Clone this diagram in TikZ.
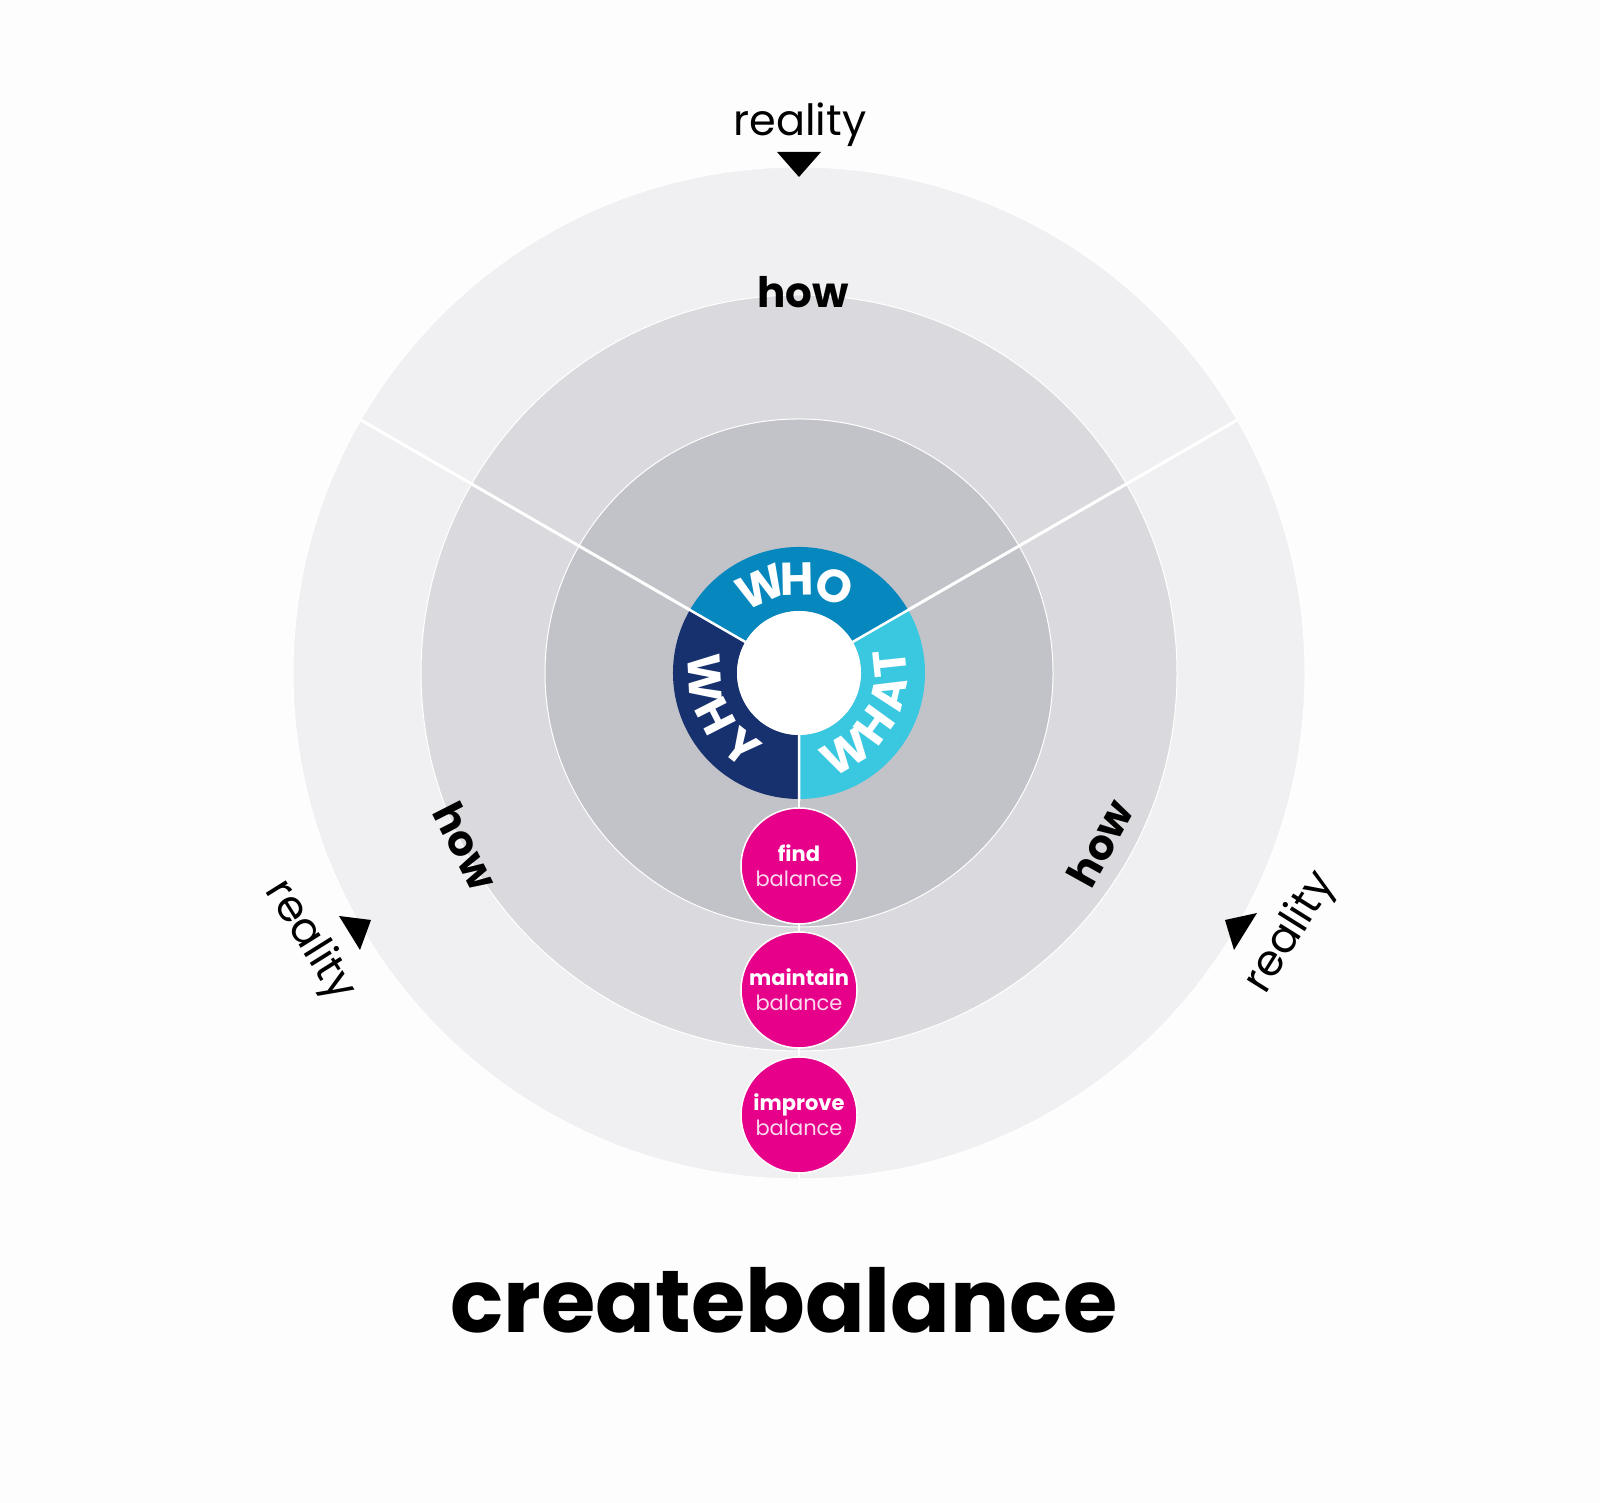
\documentclass[tikz,border=0pt]{standalone}
\usepackage{fontspec}
\setmainfont{Poppins}
\begin{document}
\begin{tikzpicture}[x=1pt,y=1pt]
\definecolor{bg}{HTML}{FDFDFD}\definecolor{r1}{HTML}{F0F0F2}\definecolor{r2}{HTML}{DADADE}\definecolor{r3}{HTML}{C2C3C8}
\definecolor{who}{HTML}{0688BF}\definecolor{why}{HTML}{17306E}\definecolor{what}{HTML}{3AC8E0}\definecolor{pink}{HTML}{E6008A}
\tikzset{lbl/.style={font=\fontsize{43}{43}\selectfont},
 howl/.style={font=\fontsize{42}{42}\selectfont\bfseries},
 ring/.style={font=\fontsize{46}{46}\selectfont\bfseries,text=white,inner sep=0pt},
 pk/.style={circle,fill=pink,draw=white,line width=1.5pt,minimum size=116pt,inner sep=0pt,align=center,text=white,font=\fontsize{21}{25}\selectfont},
 tri/.style={fill=black}}
\useasboundingbox (0,0) rectangle (1600,1503);
\fill[bg] (0,0) rectangle (1600,1503);
\coordinate (C) at (799,830);
\fill[r1,draw=white,line width=1pt] (C) circle (506);
\fill[r2,draw=white,line width=1pt] (C) circle (378);
\fill[r3,draw=white,line width=1pt] (C) circle (254);
\draw[white,line width=3pt] (C) -- ++(150:506) coordinate (L1);
\draw[white,line width=3pt] (C) -- ++(30:506) coordinate (L2);
\draw[white,line width=2pt] (C) -- ++(270:506) coordinate (L3);
% inner ring
\fill[who] (C) ++(30:126) arc (30:150:126) -- ++(330:64) arc (150:30:62) -- cycle;
\fill[why] (C) ++(150:126) arc (150:270:126) -- ++(90:64) arc (270:150:62) -- cycle;
\fill[what] (C) ++(270:126) arc (270:390:126) -- ++(210:64) arc (30:-90:62) -- cycle;
\draw[white,line width=2.5pt] (C) ++(30:60) -- ++(30:68) (C) ++(150:60) -- ++(150:68) (C) ++(270:60) -- ++(270:68);
\fill[white] (C) circle (62);
\node[ring,rotate=24] (w1) at ([shift={(114:94)}]C) {W};
\node[ring,rotate=1] (w2) at ([shift={(91:94)}]C) {H};
\node[ring,rotate=-22] (w3) at ([shift={(68:94)}]C) {O};
\node[ring,rotate=-87] (y1) at ([shift={(183:94)}]C) {W};
\node[ring,rotate=-63] (y2) at ([shift={(207:94)}]C) {H};
\node[ring,rotate=-38] (y3) at ([shift={(232:94)}]C) {Y};
\node[ring,rotate=31] (a1) at ([shift={(-59:92)}]C) {W};
\node[ring,rotate=54] (a2) at ([shift={(-35:92)}]C) {H};
\node[ring,rotate=77] (a3) at ([shift={(-13:92)}]C) {A};
\node[ring,rotate=96] (a4) at ([shift={(6:92)}]C) {T};
% pink circles
\node[pk] (p1) at (799,637) {\textbf{find}\\\color{white!85!pink}balance};
\node[pk] (p2) at (799,513) {\textbf{maintain}\\\color{white!85!pink}balance};
\node[pk] (p3) at (799,388) {\textbf{improve}\\\color{white!85!pink}balance};
% how
\node[howl] (h1) at (803,1211) {how};
\node[howl,rotate=-63] (h2) at (466,657) {how};
\node[howl,rotate=61] (h3) at (1100,660) {how};
% reality
\node[lbl] (r1t) at (800,1378) {reality};
\node[lbl,rotate=-58] (r2t) at (309,562) {reality};
\node[lbl,rotate=58] (r3t) at (1291,570) {reality};
\fill[tri] (777,1351) -- (821,1351) -- (799,1326) -- cycle;
\fill[tri] (339,587) -- (371,583) -- (360,553) -- cycle;
\fill[tri] (1225,583) -- (1257,590) -- (1234,553) -- cycle;
% wordmark
\node[font=\fontsize{88}{88}\selectfont\bfseries] (wm) at (784,203) {createbalance};
\end{tikzpicture}
\end{document}
